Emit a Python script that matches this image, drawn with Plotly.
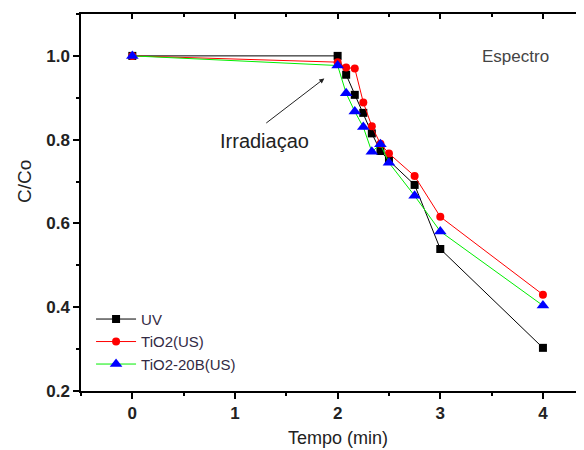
import plotly.graph_objects as go

tempo = [0, 2, 2.083, 2.167, 2.25, 2.333, 2.417, 2.5, 2.75, 3, 4]
uv = [1.0, 1.0, 0.955, 0.907, 0.864, 0.815, 0.773, 0.75, 0.692, 0.539, 0.303]
tio2_us = [1.0, 0.985, 0.972, 0.970, 0.889, 0.832, 0.790, 0.767, 0.713, 0.616, 0.430]
tio2_20b_us = [1.0, 0.977, 0.911, 0.867, 0.830, 0.771, 0.789, 0.745, 0.666, 0.581, 0.404]

x_ticks = [0, 1, 2, 3, 4]
y_ticks = [0.2, 0.4, 0.6, 0.8, 1.0]

fig = go.Figure()
fig.add_trace(go.Scatter(x=tempo, y=uv, name="UV", mode="lines+markers",
                         line=dict(color="black", width=1),
                         marker=dict(symbol="square", size=8, color="black")))
fig.add_trace(go.Scatter(x=tempo, y=tio2_us, name="TiO2(US)", mode="lines+markers",
                         line=dict(color="#ff0000", width=1),
                         marker=dict(symbol="circle", size=8, color="#ff0000")))
fig.add_trace(go.Scatter(x=tempo, y=tio2_20b_us, name="TiO2-20B(US)", mode="lines+markers",
                         line=dict(color="#00ee00", width=1),
                         marker=dict(symbol="triangle-up", size=11, color="#0000ff")))
# invisible trace for top axis ticks
fig.add_trace(go.Scatter(x=[-0.5, 4.4], y=[0.2, 0.2], xaxis="x2", mode="lines",
                         line=dict(width=0), showlegend=False, hoverinfo="skip"))

font_fam = "Liberation Sans, Arial, sans-serif"
tickfont = dict(size=17, family=font_fam, weight="bold", color="#222222")
# page body has an 8px default margin: figure is 576x442 so the page fills 584x450
fig.update_layout(
    width=576, height=442,
    margin=dict(l=73, r=0, t=6, b=59),
    paper_bgcolor="white", plot_bgcolor="white",
    font=dict(family=font_fam, color="#222222"),
    showlegend=True,
    legend=dict(x=0.02, y=0.234, xanchor="left", yanchor="top",
                bgcolor="rgba(0,0,0,0)", font=dict(size=15, color="#332a44"),
                tracegroupgap=0, itemwidth=40),
    xaxis=dict(range=[-0.5, 4.4], tickvals=x_ticks, showgrid=False, zeroline=False,
               automargin=False,
               showline=True, linecolor="black", linewidth=1.5,
               ticks="outside", ticklen=6, tickwidth=1.5, tickcolor="black",
               minor=dict(ticks="outside", dtick=0.5, tick0=0, ticklen=3, tickcolor="black"),
               tickfont=tickfont),
    xaxis2=dict(range=[-0.5, 4.4], overlaying="x", side="top", showgrid=False, zeroline=False,
                automargin=False,
                showline=True, linecolor="black", linewidth=1.5, tickvals=x_ticks,
                showticklabels=False, ticks="inside", ticklen=5, tickwidth=1.5, tickcolor="black",
                minor=dict(ticks="inside", dtick=0.5, tick0=0, ticklen=3, tickcolor="black")),
    yaxis=dict(range=[0.2, 1.1], tickvals=y_ticks, tickformat=".1f", showgrid=False, zeroline=False,
               automargin=False,
               showline=True, linecolor="black", linewidth=1.5,
               ticks="outside", ticklen=6, tickwidth=1.5, tickcolor="black",
               minor=dict(ticks="outside", dtick=0.1, tick0=0.2, ticklen=3, tickcolor="black"),
               tickfont=tickfont),
)

# axis titles
fig.add_annotation(xref="paper", yref="paper", x=257 / 503, y=-47 / 377, text="Tempo (min)",
                   showarrow=False, font=dict(size=18, color="#222222"),
                   xanchor="center", yanchor="middle")
fig.add_annotation(xref="paper", yref="paper", x=-56 / 503, y=(391 - 182) / 377, text="C/Co",
                   showarrow=False, textangle=-90, font=dict(size=19, color="#222222"),
                   xanchor="center", yanchor="middle")

fig.add_annotation(x=3.73, y=0.998, text="Espectro", showarrow=False,
                   font=dict(size=17, color="#444444"), xanchor="center", yanchor="middle")
fig.add_annotation(x=1.29, y=0.797, text="Irradiaçao", showarrow=False,
                   font=dict(size=20, color="#222222"))
fig.add_annotation(x=1.87, y=0.946, ax=1.29, ay=0.837, axref="x", ayref="y",
                   text="", showarrow=True, arrowhead=2, arrowsize=1, arrowwidth=1,
                   arrowcolor="#222222")

fig.write_html("out.html")
